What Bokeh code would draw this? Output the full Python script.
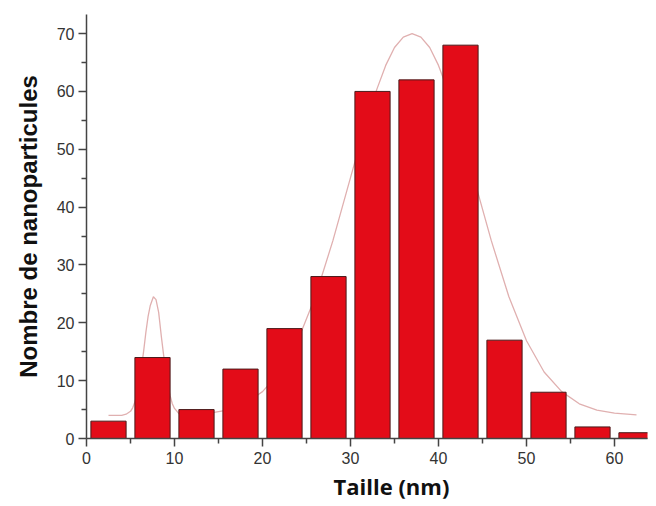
from bokeh.plotting import figure
from bokeh.models import ColumnDataSource, FixedTicker, Title
from bokeh.embed import file_html
from bokeh.resources import INLINE

# Histogram bins (left edge) and counts
bin_left = [0, 5, 10, 15, 20, 25, 30, 35, 40, 45, 50, 55, 60]
counts = [3, 14, 5, 12, 19, 28, 60, 62, 68, 17, 8, 2, 1]

# Fitted curve, points
curve_x = [2.5, 4, 4.5, 5, 5.25, 5.5, 5.75, 6, 6.25, 6.5, 6.75, 7, 7.25, 7.6, 7.9, 8.2,
           8.5, 8.75, 9, 9.25, 9.5, 9.75, 10, 10.5, 11, 12, 14, 16, 18,
           20, 22, 24, 26, 28, 30, 32, 33, 34, 35, 36, 37, 38, 39, 40, 41, 42, 44,
           46, 48, 50, 52, 54, 56, 58, 60, 62.5]
curve_y = [4.0, 4.0, 4.2, 4.7, 5.3, 6.3, 7.8, 9.7, 12.3, 15.2, 18.4, 21.1, 23.0, 24.5,
           24.0, 21.8, 17.7, 14.6, 11.7, 9.3, 7.4, 6.0, 5.2, 4.3, 4.1,
           4.2, 4.4, 4.9, 6.0, 8.1, 11.5, 16.9, 24.5, 34.2, 45.1, 55.9, 60.4, 64.5,
           67.6, 69.4, 70.0, 69.4, 67.6, 64.5, 60.4, 55.9, 45.1, 34.2, 24.5, 16.9,
           11.5, 8.1, 6.0, 4.9, 4.4, 4.1]

x_ticks = [0, 10, 20, 30, 40, 50, 60]
y_ticks = [0, 10, 20, 30, 40, 50, 60, 70]

src = ColumnDataSource(dict(
    left=[b + 0.5 for b in bin_left],
    right=[b + 4.5 for b in bin_left],
    top=counts,
    bottom=[0] * len(counts),
))

p = figure(width=652, height=502, output_backend="svg", toolbar_location=None,
           x_range=(0, 63.75), y_range=(0, 73.3),
           min_border_left=86, min_border_right=5, min_border_top=14, min_border_bottom=64)
p.outline_line_color = None
p.grid.grid_line_color = None
p.background_fill_color = "white"

p.line(curve_x, curve_y, line_color="#e0b0b0", line_width=1.3)
p.quad(left="left", right="right", top="top", bottom="bottom", source=src,
       fill_color="#e30c18", line_color="#4a1a1a", line_width=1)

for ax in (p.xaxis[0], p.yaxis[0]):
    ax.axis_line_color = "#444444"
    ax.axis_line_width = 1.5
    ax.major_tick_line_color = "#444444"
    ax.minor_tick_line_color = "#444444"
    ax.major_tick_line_width = 1.5
    ax.minor_tick_line_width = 1.5
    ax.major_tick_in = 0
    ax.major_tick_out = 8
    ax.minor_tick_in = 0
    ax.minor_tick_out = 5
    ax.major_label_text_font = "Liberation Sans"
    ax.major_label_text_font_size = "16px"
    ax.major_label_text_color = "#333333"

p.xaxis[0].ticker = FixedTicker(ticks=x_ticks, minor_ticks=[5, 15, 25, 35, 45, 55])
p.yaxis[0].ticker = FixedTicker(ticks=y_ticks, minor_ticks=[5, 15, 25, 35, 45, 55, 65])
p.xaxis[0].major_label_standoff = 5
p.yaxis[0].major_label_standoff = 4

p.yaxis[0].axis_label = "Nombre de nanoparticules"
p.yaxis[0].axis_label_text_font = "Liberation Sans"
p.yaxis[0].axis_label_text_font_style = "bold"
p.yaxis[0].axis_label_text_font_size = "24px"
p.yaxis[0].axis_label_text_color = "#111111"
p.yaxis[0].axis_label_standoff = 12

p.add_layout(Title(text="Taille (nm)", align="left", offset=247, standoff=4,
                   text_font="Open Sans", text_font_style="bold",
                   text_font_size="22px", text_color="#111111"), "below")

open("out.html", "w").write(file_html(p, INLINE))
